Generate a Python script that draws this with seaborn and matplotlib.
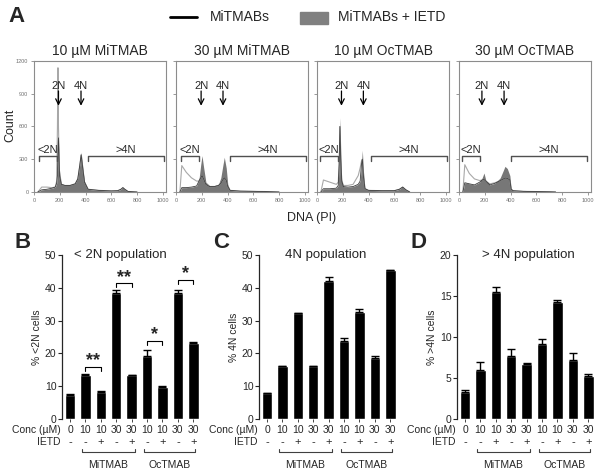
import numpy as np
import matplotlib
matplotlib.use('Agg')
import matplotlib.pyplot as plt
import seaborn as sns
from matplotlib.lines import Line2D
from matplotlib.patches import Rectangle
from matplotlib.transforms import blended_transform_factory

sns.set_style('ticks')
plt.rcParams['font.family'] = ['Liberation Sans', 'DejaVu Sans']

# ---- Panel A: histogramas de DNA (PI) ----
titulos_a = ['10 µM MiTMAB', '30 µM MiTMAB', '10 µM OcTMAB', '30 µM OcTMAB']

dna_1 = [30, 60, 100, 140, 165, 176, 182, 186, 190, 198, 212, 240, 280, 320, 340, 355, 366, 377, 392, 420,
         500, 600, 650, 675, 690, 705, 730, 800]
ietd_1 = [0, 20, 25, 35, 45, 80, 150, 380, 496, 200, 80, 60, 65, 80, 130, 250, 364, 250, 100, 25,
          15, 10, 12, 25, 43, 25, 5, 0]
mitmab_1 = [0, 45, 45, 40, 45, 100, 600, 1138, 600, 150, 70, 60, 60, 75, 120, 240, 340, 230, 90, 25,
            15, 10, 12, 25, 40, 25, 5, 0]

dna_2 = [30, 45, 80, 120, 160, 178, 192, 202, 214, 232, 260, 300, 330, 348, 362, 375, 390, 402, 420, 500,
         600, 700, 750, 800]
ietd_2 = [0, 40, 40, 45, 55, 110, 250, 333, 230, 90, 60, 60, 70, 130, 230, 318, 220, 70, 15, 8,
          6, 4, 2, 0]
mitmab_2 = [0, 242, 180, 130, 100, 100, 130, 150, 120, 70, 50, 50, 60, 80, 110, 130, 110, 50, 15, 8,
            6, 4, 2, 0]

dna_3 = [30, 50, 100, 150, 165, 172, 178, 184, 192, 205, 240, 280, 320, 335, 345, 352, 360, 372, 400, 500,
         600, 640, 665, 690, 720]
ietd_3 = [0, 30, 30, 35, 60, 300, 680, 400, 100, 50, 45, 50, 70, 100, 250, 382, 200, 40, 15, 12,
          12, 25, 52, 20, 0]
mitmab_3 = [0, 110, 90, 70, 90, 250, 600, 300, 110, 60, 60, 70, 150, 220, 280, 300, 150, 30, 15, 12,
            12, 25, 45, 20, 0]

dna_4 = [30, 45, 80, 120, 160, 180, 194, 208, 240, 280, 320, 345, 357, 375, 395, 405, 420, 500, 600, 700, 750]
ietd_4 = [0, 85, 75, 65, 90, 130, 174, 110, 65, 80, 130, 200, 235, 215, 150, 30, 12, 6, 4, 2, 0]
mitmab_4 = [0, 250, 170, 120, 105, 110, 115, 100, 75, 85, 105, 120, 128, 125, 110, 25, 12, 6, 4, 2, 0]

# posiciones de etiquetas 2N / 4N y corchetes (<2N, >4N) por panel
pos_2n = [190, 195, 190, 178]
pos_4n = [365, 365, 360, 350]
corchete_lt2n = [(40, 180), (40, 180), (25, 165), (20, 165)]
corchete_gt4n = [(420, 1010), (420, 1010), (420, 1010), (400, 995)]

# ---- Paneles B, C, D: barras ----
conc_labels = ['0', '10', '10', '30', '30', '10', '10', '30', '30']
ietd_labels = ['-', '-', '+', '-', '+', '-', '+', '-', '+']

pct_lt2n = [7.3, 13.3, 8.3, 38.5, 13.3, 19.3, 9.8, 38.3, 23.2]
err_lt2n = [0.3, 0.3, 0.2, 0.7, 0.2, 1.7, 0.3, 1.0, 0.3]
pct_4n = [7.9, 16.1, 32.3, 16.1, 42.0, 23.7, 32.5, 18.6, 45.4]
err_4n = [0.0, 0.1, 0.1, 0.1, 1.4, 1.0, 1.0, 0.7, 0.1]
pct_gt4n = [3.3, 6.0, 15.5, 7.7, 6.7, 9.2, 14.3, 7.2, 5.3]
err_gt4n = [0.2, 0.9, 0.6, 0.8, 0.15, 0.5, 0.2, 0.8, 0.2]

# significancia en B: (barra1, barra2, altura, estrellas)
sig_lt2n = [(1, 2, 15.9, '**'), (3, 4, 41.4, '**'), (5, 6, 23.9, '*'), (7, 8, 42.4, '*')]

fig = plt.figure(figsize=(6, 4.73), dpi=100)

# leyenda superior
fig.add_artist(Line2D([170 / 600, 197 / 600], [1 - 17 / 473, 1 - 17 / 473], color='black', lw=2))
fig.text(210 / 600, 1 - 17 / 473, 'MiTMABs', fontsize=10, va='center')
fig.add_artist(Rectangle((300 / 600, 1 - 24 / 473), 28 / 600, 12 / 473, color='#808080'))
fig.text(338 / 600, 1 - 17 / 473, 'MiTMABs + IETD', fontsize=10, va='center')

fig.text(8 / 600, 1 - 16 / 473, 'A', fontsize=16, fontweight='bold', va='center')

datos_a = [(dna_1, ietd_1, mitmab_1), (dna_2, ietd_2, mitmab_2),
           (dna_3, ietd_3, mitmab_3), (dna_4, ietd_4, mitmab_4)]
lefts_a = [34, 176, 317, 459]

for i, (dna, ietd, mitmab) in enumerate(datos_a):
    ax = fig.add_axes([lefts_a[i] / 600, 1 - 192 / 473, 132 / 600, 131 / 473])
    dna = np.array(dna)
    ietd = np.array(ietd)
    mitmab = np.array(mitmab)
    ax.fill_between(dna, ietd, color='#777777', lw=0, zorder=2)
    sns.lineplot(x=dna, y=mitmab, color='#a8a8a8', linewidth=0.8, estimator=None, ax=ax, zorder=3)
    sns.lineplot(x=dna, y=np.minimum(mitmab, ietd), color='#3c3c3c', linewidth=0.6, estimator=None,
                 ax=ax, zorder=4)
    ax.set_xlim(0, 1025)
    ax.set_ylim(0, 1200)
    ax.set_xticks([0, 200, 400, 600, 800, 1000])
    ax.set_yticks([0, 300, 600, 900, 1200])
    ax.tick_params(labelsize=4, colors='#707070', length=2, width=0.5, pad=2)
    if i > 0:
        ax.set_yticklabels([])
    for s in ax.spines.values():
        s.set_color('#8c8c8c')
        s.set_linewidth(0.8)
    ax.set_title(titulos_a[i], fontsize=10, pad=4)

    # etiquetas 2N / 4N con flechas
    for xp, txt in [(pos_2n[i], '2N'), (pos_4n[i], '4N')]:
        ax.text(xp, 975, txt, ha='center', va='center', fontsize=8)
        ax.annotate('', xy=(xp, 790), xytext=(xp, 925),
                    arrowprops=dict(arrowstyle='->', color='black', lw=0.9, shrinkA=0, shrinkB=0))

    # corchetes <2N y >4N
    for (x0, x1), txt in [(corchete_lt2n[i], '<2N'), (corchete_gt4n[i], '>4N')]:
        ax.plot([x0, x0, x1, x1], [288, 327, 327, 288], color='#505050', lw=1, zorder=5)
        ax.text((x0 + x1) / 2, 385, txt, ha='center', va='center', fontsize=8)

fig.text(10 / 600, 1 - 125 / 473, 'Count', fontsize=9, rotation=90, va='center', ha='center')
fig.text(312 / 600, 1 - 218 / 473, 'DNA (PI)', fontsize=9, va='center', ha='center')


def panel_barras(left, valores, errores, ymax, paso, titulo, titulo_x, ylabel, letra, letra_x):
    ax = fig.add_axes([left / 600, 1 - 419 / 473, 139 / 600, 164 / 473])
    posiciones = np.arange(len(valores))
    sns.barplot(x=posiciones, y=valores, color='black', saturation=1, width=0.68, errorbar=None, ax=ax)
    ax.errorbar(posiciones, valores, yerr=[np.zeros(len(errores)), errores], fmt='none',
                ecolor='black', elinewidth=1, capsize=3, capthick=1, zorder=5)
    ax.set_xlim(-0.52, 8.5)
    ax.set_ylim(0, ymax)
    ax.set_yticks(np.arange(0, ymax + 1, paso))
    ax.set_xticks(posiciones)
    ax.set_xticklabels([])
    ax.tick_params(axis='y', labelsize=7.5, length=3, width=0.8, pad=1)
    ax.tick_params(axis='x', length=2, width=0.6)
    sns.despine(ax=ax, bottom=True)
    ax.spines['left'].set_linewidth(0.9)
    ax.set_ylabel(ylabel, fontsize=7.5, labelpad=2)
    ax.set_xlabel('')
    ax.text(titulo_x, 1.0, titulo, transform=ax.transAxes, ha='center', va='center', fontsize=9.5)

    # tabla bajo el eje
    tr = blended_transform_factory(ax.transData, fig.transFigure)
    y_conc = 1 - 430 / 473
    y_ietd = 1 - 442 / 473
    ax.text(-0.6, y_conc, 'Conc (µM)', transform=tr, ha='right', va='center', fontsize=7.5)
    ax.text(-0.6, y_ietd, 'IETD', transform=tr, ha='right', va='center', fontsize=7.5)
    for p, c, s in zip(posiciones, conc_labels, ietd_labels):
        ax.text(p, y_conc, c, transform=tr, ha='center', va='center', fontsize=7.5)
        ax.text(p, y_ietd, s, transform=tr, ha='center', va='center', fontsize=8)
    y_br = 1 - 452 / 473
    for (x0, x1), nombre in [((0.8, 4.2), 'MiTMAB'), ((4.8, 8.1), 'OcTMAB')]:
        ax.plot([x0, x0, x1, x1], [y_br + 0.006, y_br, y_br, y_br + 0.006], transform=tr,
                color='#404040', lw=0.8, clip_on=False)
        ax.text((x0 + x1) / 2, 1 - 465 / 473, nombre, transform=tr, ha='center', va='center', fontsize=7.5)

    fig.text(letra_x / 600, 1 - 242 / 473, letra, fontsize=16, fontweight='bold', va='center')
    return ax


ax_b = panel_barras(62, pct_lt2n, err_lt2n, 50, 10, '< 2N population', 0.42, '% <2N cells', 'B', 14)
ax_c = panel_barras(259, pct_4n, err_4n, 50, 10, '4N population', 0.48, '% 4N cells', 'C', 213)
ax_d = panel_barras(457, pct_gt4n, err_gt4n, 20, 5, '> 4N population', 0.51, '% >4N cells', 'D', 410)

# corchetes de significancia en B
for b1, b2, h, estrellas in sig_lt2n:
    ax_b.plot([b1, b1, b2, b2], [h - 1.3, h, h, h - 1.3], color='black', lw=0.8)
    ax_b.text((b1 + b2) / 2, h - 0.8, estrellas, ha='center', va='bottom', fontsize=13, fontweight='bold')

fig.savefig('out.png', dpi=100)
print('ok')
